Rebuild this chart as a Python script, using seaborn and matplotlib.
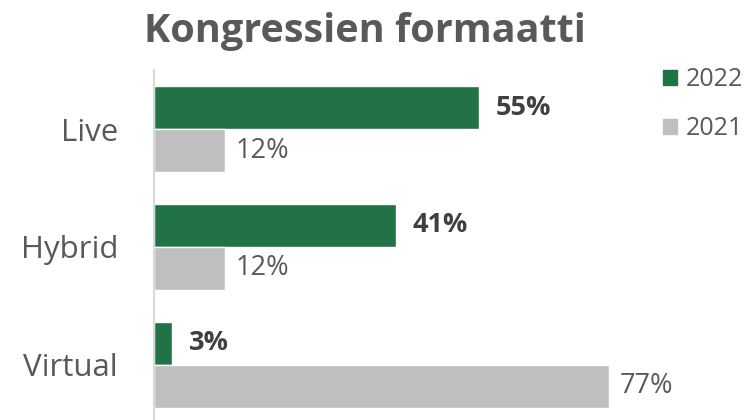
import seaborn as sns
import matplotlib.pyplot as plt
import pandas as pd
from matplotlib.patches import Patch

categories = ["Live", "Hybrid", "Virtual"]
years = ["2022", "2021"]
values_2022 = [55, 41, 3]
values_2021 = [12, 12, 77]

green = "#217346"
grey = "#BFBFBF"
txt = "#595959"

sns.set_style("white")
plt.rcParams["font.family"] = ["Open Sans", "DejaVu Sans"]

df = pd.DataFrame({
    "Format": categories * 2,
    "Year": ["2022"] * 3 + ["2021"] * 3,
    "Value": values_2022 + values_2021,
})

fig = plt.figure(figsize=(7.48, 4.2), dpi=100)
ax = fig.add_axes([0.206, 0.0, 0.789, 0.833])

sns.barplot(data=df, y="Format", x="Value", hue="Year", hue_order=years,
            order=categories, palette=[green, grey], width=0.73,
            orient="h", ax=ax, legend=False, saturation=1)

ax.set_xlim(0, 100)
ax.set_ylim(2.47, -0.5)
ax.set_xlabel("")
ax.set_ylabel("")
ax.set_xticks([])
for s in ["top", "right", "bottom"]:
    ax.spines[s].set_visible(False)
ax.spines["left"].set_color("#D9D9D9")
ax.spines["left"].set_linewidth(1.5)
ax.tick_params(axis="y", length=0, pad=26, labelsize=22.5, labelcolor=txt)

for cont, bold in zip(ax.containers, [True, False]):
    ax.bar_label(cont, labels=[f"{int(v)}%" for v in cont.datavalues],
                 padding=12 if bold else 8, fontsize=19.5,
                 color="#404040" if bold else txt,
                 fontweight="bold" if bold else "normal")

fig.text(0.488, 0.925, "Kongressien formaatti", ha="center", va="center",
         fontsize=28.5, fontweight="bold", color=txt)

handles = [Patch(color=green, label="2022"), Patch(color=grey, label="2021")]
fig.legend(handles=handles, loc="upper left", bbox_to_anchor=(0.887, 0.84),
           frameon=False, fontsize=18, labelcolor=txt, handlelength=0.55,
           handleheight=0.55, handletextpad=0.35, labelspacing=0.95,
           borderpad=0, borderaxespad=0)

fig.savefig("out.png", dpi=100)
